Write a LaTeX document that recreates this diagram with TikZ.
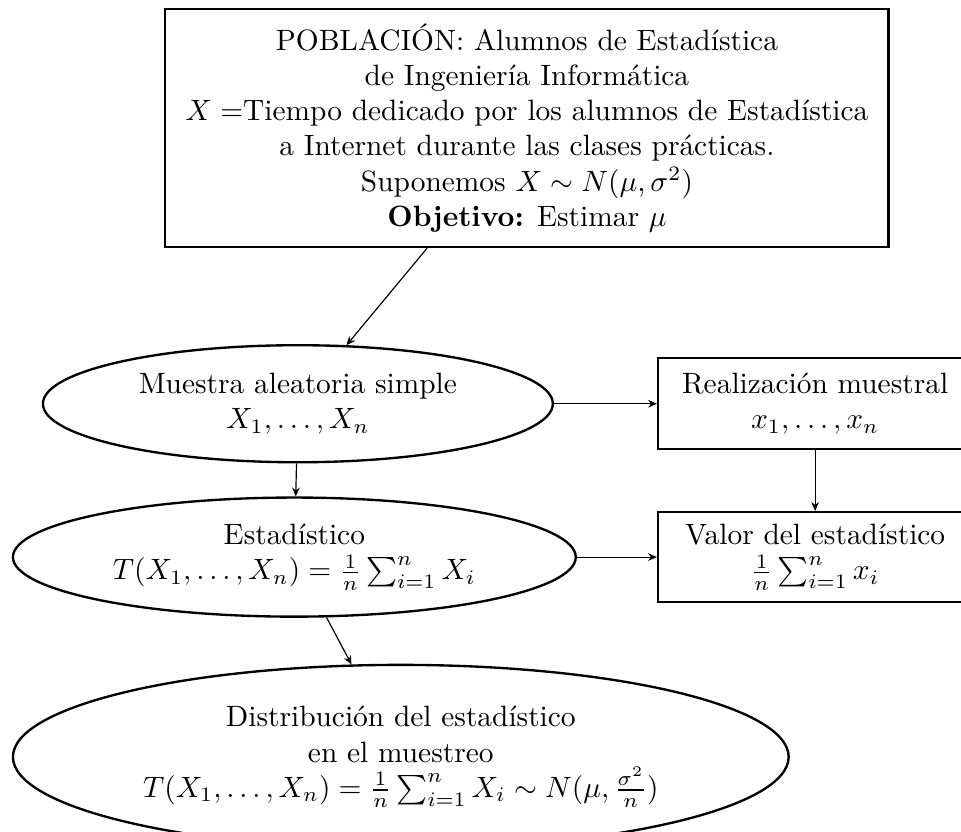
\documentclass[tikz,border=0pt]{standalone}
\usepackage{amsmath,amssymb}
\usepackage{tikz}
\usetikzlibrary{arrows.meta,positioning,shapes.geometric}

\begin{document}
\begin{tikzpicture}[>={Stealth[length=3pt,width=2.6pt]},
  caja/.style={draw,thick,rectangle,align=center,inner sep=2pt},
  elipse/.style={draw,thick,ellipse,align=center,inner sep=1pt}]
\useasboundingbox (-179.2pt,43.5pt) rectangle (147.6pt,-239.4pt);
\clip (-179.2pt,43.5pt) rectangle (147.6pt,-239.4pt);
\node[caja,minimum width=246pt,minimum height=81pt] (poblacion) {POBLACIÓN: Alumnos de Estadística\\de Ingeniería Informática\\$X=$Tiempo dedicado por los alumnos de Estadística\\a Internet durante las clases prácticas.\\Suponemos $X\sim N(\mu,\sigma^2)$\\\textbf{Objetivo:} Estimar $\mu$};
\node[elipse,below=32.6pt of poblacion,xshift=-77.9pt,minimum width=173.4pt,minimum height=39.8pt] (muestra) {Muestra aleatoria simple\\$X_1,\ldots,X_n$};
\node[caja,right=35pt of muestra,minimum width=106.8pt,minimum height=31pt] (realizacion) {Realización muestral\\$x_1,\ldots,x_n$};
\node[elipse,below=11.2pt of muestra,xshift=-1.2pt,minimum width=191.4pt,minimum height=40.5pt] (estadistico) {Estadístico\\$T(X_1,\ldots,X_n)=\frac{1}{n}\sum_{i=1}^n X_i$};
\node[caja,right=27.2pt of estadistico,minimum width=106.8pt,minimum height=30.6pt] (valor) {Valor del estadístico\\$\frac{1}{n}\sum_{i=1}^n x_i$};
\node[elipse,below=15.6pt of estadistico,xshift=36.2pt,minimum width=263.8pt,minimum height=62.6pt] (distribucion) {Distribución del estadístico\\en el muestreo\\$T(X_1,\ldots,X_n)=\frac{1}{n}\sum_{i=1}^n X_i\sim N(\mu,\frac{\sigma^2}{n})$};
\draw[->] (poblacion)--(muestra);
\draw[->] (muestra)--(realizacion);
\draw[->] (muestra)--(estadistico);
\draw[->] (realizacion)--(valor);
\draw[->] (estadistico)--(valor);
\draw[->] (estadistico)--(distribucion);
\end{tikzpicture}
\end{document}
